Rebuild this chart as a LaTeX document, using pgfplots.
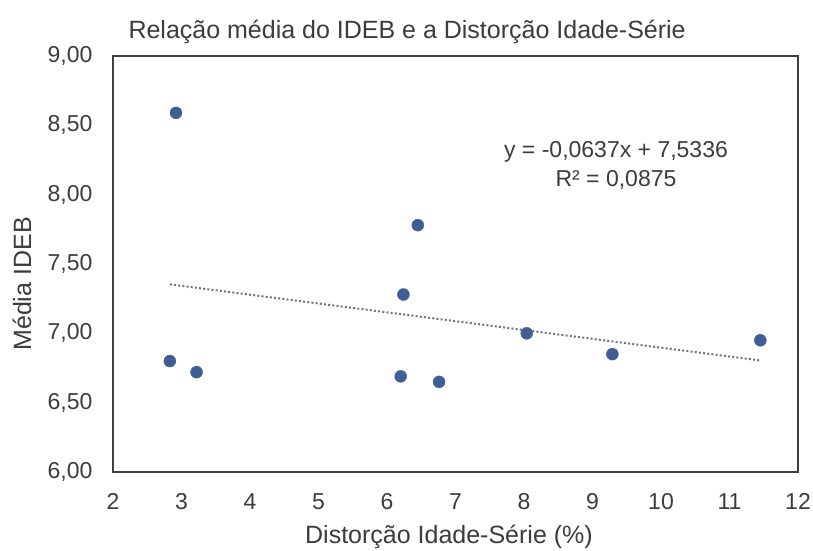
\documentclass[border=0pt]{standalone}
\usepackage{fontspec}
\setmainfont{Liberation Sans}
\usepackage{pgfplots}
\pgfplotsset{compat=1.18}
\definecolor{txt}{RGB}{60,60,60}
\definecolor{frame}{RGB}{64,64,64}
\definecolor{pt}{RGB}{66,92,148}
\definecolor{trend}{RGB}{115,115,115}
\begin{document}
\begin{tikzpicture}
\useasboundingbox (0,0) rectangle (813pt,550pt);
\begin{axis}[
  at={(113pt,78pt)}, anchor=south west,
  scale only axis, width=685pt, height=416pt,
  xmin=2, xmax=12, ymin=6, ymax=9,
  xtick={2,3,...,12},
  ytick={6,6.5,...,9},
  major tick length=0pt,
  axis line style={draw=frame, line width=1.6pt},
  font=\fontsize{23}{27.6}\selectfont\color{txt},
  tick label style={font=\fontsize{23}{27.6}\selectfont\color{txt}},
  /pgf/number format/assume math mode=true,
  yticklabel style={/pgf/number format/.cd, fixed, fixed zerofill, precision=2, use comma, /tikz/.cd, xshift=-17pt},
  xticklabel style={yshift=-18pt},
  xlabel={Distorção Idade-Série (\%)},
  xlabel style={at={(rel axis cs:0.4905,-0.156)}, anchor=center, font=\fontsize{25}{30}\selectfont\color{txt}},
  ylabel={Média IDEB},
  ylabel style={at={(rel axis cs:-0.1328,0.452)}, anchor=center, font=\fontsize{25}{30}\selectfont\color{txt}},
  title={Relação média do IDEB e a Distorção Idade-Série},
  title style={at={(rel axis cs:0.0175,1.043)}, anchor=west, font=\fontsize{25}{30}\selectfont\color{txt}},
  clip=false,
]
\addplot[trend, line width=2pt, dash pattern=on 2pt off 2.2pt] coordinates {(2.83,7.3533) (11.45,6.8042)};
\addplot[only marks, mark=*, mark size=6pt, mark options={fill=pt, draw=pt}] coordinates {
  (2.92,8.59) (2.83,6.80) (3.22,6.72) (6.24,7.28) (6.45,7.78)
  (6.20,6.69) (6.76,6.65) (8.04,7.00) (9.29,6.85) (11.45,6.95)
};
\node[anchor=center, font=\fontsize{23}{27.6}\selectfont\color{txt}] at (axis cs:9.343,8.308) {y = -0,0637x + 7,5336};
\node[anchor=center, font=\fontsize{23}{27.6}\selectfont\color{txt}] at (axis cs:9.343,8.106) {R² = 0,0875};
\end{axis}
\end{tikzpicture}
\end{document}
